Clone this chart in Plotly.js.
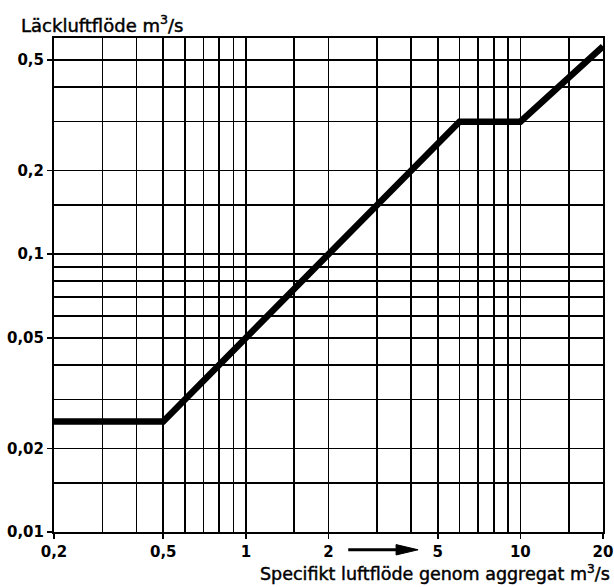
<!DOCTYPE html>
<html>
<head>
<meta charset="utf-8">
<script src="https://cdn.plot.ly/plotly-3.0.1.min.js"></script>
<style>
html,body{margin:0;padding:0;background:#fff;}
#chart{width:614px;height:587px;}
#chart .annotation-text{stroke:#000;stroke-width:0.45px;}
</style>
</head>
<body>
<div id="chart"></div>
<script>
// Data (log-log chart)
const flowX = [0.2, 0.5, 6, 10, 20];          // Specifikt luftflöde genom aggregat m3/s
const leakY = [0.025, 0.025, 0.3, 0.3, 0.56]; // Läckluftflöde m3/s

const xTickVals = [0.2, 0.5, 1, 2, 5, 10, 20];
const xTickText = ['0,2', '0,5', '1', '2', '5', '10', '20'];
const xMinorVals = [0.3, 0.4, 0.6, 0.7, 0.8, 0.9, 1.5, 3, 4, 6, 7, 8, 9, 15];

const yTickVals = [0.01, 0.02, 0.05, 0.1, 0.2, 0.5];
const yTickText = ['0,01', '0,02', '0,05', '0,1', '0,2', '0,5'];
const yMinorVals = [0.015, 0.03, 0.04, 0.06, 0.07, 0.08, 0.09, 0.15, 0.3, 0.4];

const xRange = [0.2, 20];
const yRange = [0.01, 0.6];

// Decorative arrow between the "2" and "5" tick labels (in x data units)
const arrowFrom = 2.36;
const arrowTo = 4.24;

const FONT = 'DejaVu Sans, sans-serif';
const lx = v => Math.log10(v);
const xPaper = v => (lx(v) - lx(xRange[0])) / (lx(xRange[1]) - lx(xRange[0]));

const trace = {
  x: flowX, y: leakY, type: 'scatter', mode: 'lines',
  line: {color: '#000', width: 6.5},
  hoverinfo: 'skip'
};

const axisCommon = {
  type: 'log',
  showline: true, mirror: true, linecolor: '#000', linewidth: 2,
  showgrid: true, gridcolor: '#000', gridwidth: 1.6,
  zeroline: false,
  ticks: 'outside', ticklen: 5, tickwidth: 1.6, tickcolor: '#000',
  tickmode: 'array',
  tickfont: {family: FONT, size: 15, color: '#000', weight: 'bold'}
};

const arrowY = -0.036;
const headBase = arrowTo / Math.pow(10, 22 / 274.5);
const layout = {
  width: 614, height: 587,
  margin: {l: 54, r: 11, t: 38, b: 55},
  paper_bgcolor: '#fff', plot_bgcolor: '#fff',
  showlegend: false,
  xaxis: Object.assign({}, axisCommon, {
    range: [lx(xRange[0]), lx(xRange[1])],
    tickvals: xTickVals, ticktext: xTickText,
    minor: {tickmode: 'array', tickvals: xMinorVals, showgrid: true, gridcolor: '#000', gridwidth: 1.6, ticks: ''}
  }),
  yaxis: Object.assign({}, axisCommon, {
    range: [lx(yRange[0]), lx(yRange[1])],
    tickvals: yTickVals, ticktext: yTickText,
    minor: {tickmode: 'array', tickvals: yMinorVals, showgrid: true, gridcolor: '#000', gridwidth: 1.6, ticks: ''}
  }),
  annotations: [
    {text: 'Läckluftflöde m<sup>3</sup>/s', xref: 'paper', yref: 'paper',
     x: -0.064, y: 1.0, xanchor: 'left', yanchor: 'bottom', showarrow: false,
     font: {family: FONT, size: 18, color: '#000'}},
    {text: 'Specifikt luftflöde genom aggregat m<sup>3</sup>/s', xref: 'paper', yref: 'paper',
     x: 1.016, y: -0.109, xanchor: 'right', yanchor: 'bottom', showarrow: false,
     font: {family: FONT, size: 17.5, color: '#000'}}
  ],
  shapes: [
    {type: 'line', xref: 'paper', yref: 'paper',
     x0: xPaper(arrowFrom), x1: xPaper(headBase) + 0.002, y0: arrowY, y1: arrowY,
     line: {color: '#000', width: 3}},
    {type: 'path', xref: 'paper', yref: 'paper',
     path: 'M ' + xPaper(headBase) + ' ' + (arrowY + 0.0105) +
           ' L ' + xPaper(arrowTo) + ' ' + arrowY +
           ' L ' + xPaper(headBase) + ' ' + (arrowY - 0.0105) + ' Z',
     fillcolor: '#000', line: {color: '#000', width: 1}}
  ]
};

Plotly.newPlot('chart', [trace], layout, {staticPlot: true, displayModeBar: false});
</script>
</body>
</html>
